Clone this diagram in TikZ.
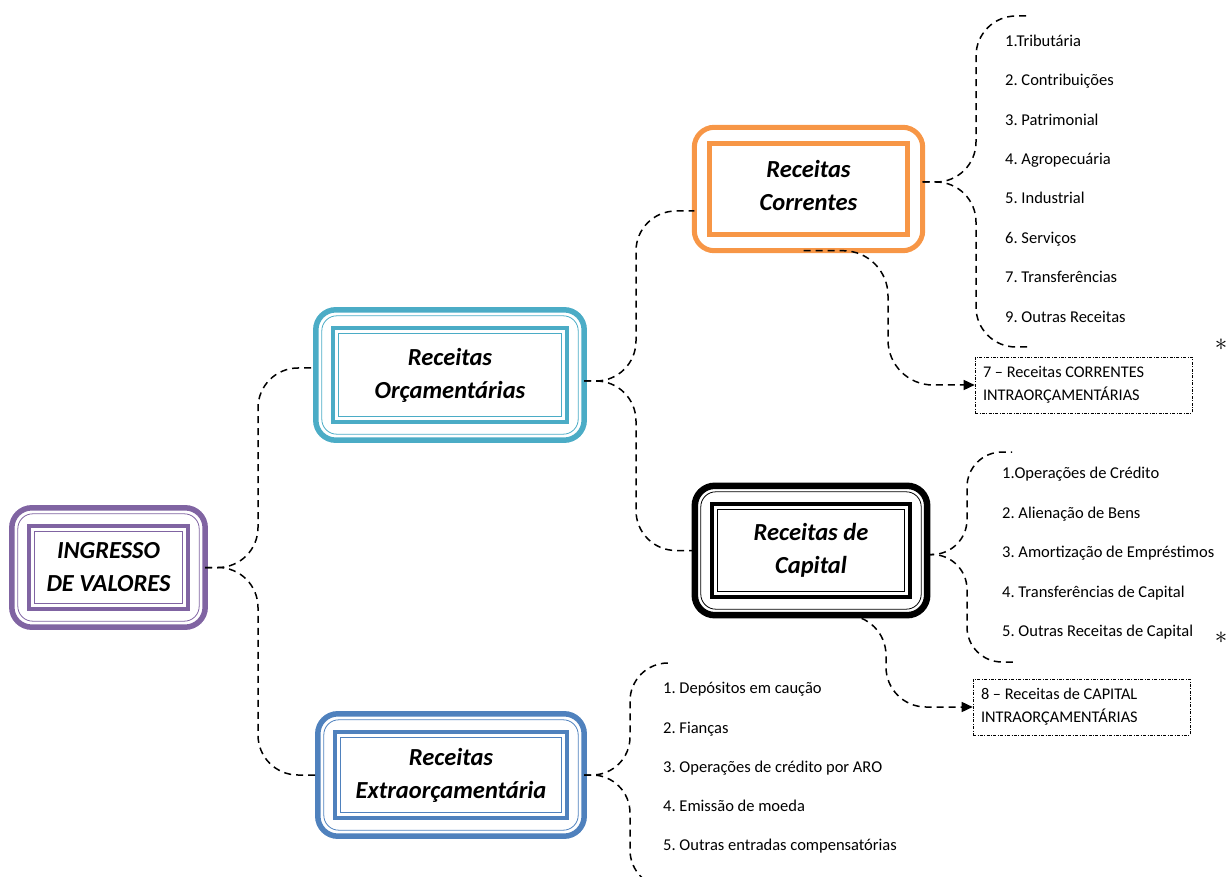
\documentclass[tikz,border=0pt]{standalone}
\usepackage{fontspec}
\setmainfont{Carlito}
\usetikzlibrary{arrows.meta}
\frenchspacing

\definecolor{roxo}{HTML}{8064A2}
\definecolor{ciano}{HTML}{4BACC6}
\definecolor{laranja}{HTML}{F79646}
\definecolor{azul}{HTML}{4F81BD}

\tikzset{
    titulo/.style={font=\fontsize{24.5}{33}\selectfont\bfseries\itshape, align=center, inner sep=0pt},
    item/.style={font=\fontsize{16.5}{18}\selectfont, anchor=west, inner sep=0pt, text height=12pt, text depth=3.5pt},
    ligacao/.style={dash pattern=on 7pt off 5pt, line width=1.5pt, rounded corners=28pt},
    seta/.style={-{Triangle[length=11pt,width=10pt]}},
    caixa/.style={draw, dash pattern=on 3pt off 1.5pt on 0.8pt off 1.5pt, line width=0.6pt,
        text width=201pt, minimum height=56pt, inner sep=8pt, align=flush left,
        font=\fontsize{16.3}{23}\selectfont},
    asterisco/.style={font=\fontsize{33}{33}\selectfont, inner sep=0pt}
}

% moldura com quatro linhas (grossa, fina, grossa, fina)
\newcommand{\molduratripla}[3]{%
    \draw[#2, line width=#3, rounded corners=20pt] (#1.south west) rectangle (#1.north east);
    \draw[#2, line width=0.8pt, rounded corners=15pt] ([shift={(6pt,6pt)}]#1.south west) rectangle ([shift={(-6pt,-6pt)}]#1.north east);
    \draw[#2, line width=4.5pt] ([shift={(17pt,18pt)}]#1.south west) rectangle ([shift={(-17pt,-18pt)}]#1.north east);
    \draw[#2, line width=0.8pt] ([shift={(22.5pt,23.5pt)}]#1.south west) rectangle ([shift={(-22.5pt,-23.5pt)}]#1.north east);
}
% moldura com duas linhas grossas
\newcommand{\molduradupla}[2]{%
    \draw[#2, line width=5pt, rounded corners=20pt] (#1.south west) rectangle (#1.north east);
    \draw[#2, line width=5pt] ([shift={(15pt,16.5pt)}]#1.south west) rectangle ([shift={(-15pt,-16.5pt)}]#1.north east);
}

\begin{document}
\begin{tikzpicture}[x=1pt, y=-1pt]
    \useasboundingbox (0,0) rectangle (1227,877);

    % caixas principais
    \node[titulo, minimum width=193pt, minimum height=119pt] (ing) at (108.5,567.5) {INGRESSO\\DE VALORES};
    \node[titulo, minimum width=268pt, minimum height=130pt] (orc) at (450,375) {Receitas\\Orçamentárias};
    \node[titulo, minimum width=228pt, minimum height=123pt, text depth=8pt] (cor) at (808.5,189) {Receitas\\Correntes};
    \node[titulo, minimum width=232pt, minimum height=129pt] (cap) at (811,550.5) {Receitas de\\Capital};
    \node[titulo, minimum width=266pt, minimum height=122pt] (ext) at (451,775) {Receitas\\Extraorçamentária};

    \molduratripla{ing}{roxo}{5.5pt}
    \molduratripla{orc}{ciano}{5.5pt}
    \molduradupla{cor}{laranja}
    \molduratripla{cap}{black}{6.5pt}
    \molduratripla{ext}{azul}{5.5pt}

    % listas
    \foreach \y/\t [count=\i] in {42/1.Tributária, 81/2. Contribuições, 121/3. Patrimonial,
        160/4. Agropecuária, 199/5. Industrial, 239/6. Serviços, 278/7. Transferências,
        318/9. Outras Receitas}
        \node[item] (cor\i) at (1005,\y) {\t};

    \foreach \y/\t [count=\i] in {474/1.Operações de Crédito, 514/2. Alienação de Bens,
        553/3. Amortização de Empréstimos, 593/4. Transferências de Capital,
        632/5. Outras Receitas de Capital}
        \node[item] (cap\i) at (1002,\y) {\t};

    \foreach \y/\t [count=\i] in {689/1. Depósitos em caução, 729/2. Fianças,
        768/3. Operações de crédito por ARO, 807/4. Emissão de moeda,
        846/5. Outras entradas compensatórias}
        \node[item] (ext\i) at (663,\y) {\t};

    % intraorcamentarias
    \node[caixa] (b7) at (1083.5,385) {7 – Receitas CORRENTES\\INTRAORÇAMENTÁRIAS};
    \node[caixa] (b8) at (1081.5,707) {8 – Receitas de CAPITAL\\INTRAORÇAMENTÁRIAS};

    \node[asterisco] (ast1) at (1221,345) {$\ast$};
    \node[asterisco] (ast2) at (1221,638) {$\ast$};

    % eixos verticais das chaves e pontas livres
    \coordinate (eixoIng) at (258,0);
    \coordinate (eixoOrc) at (636,0);
    \coordinate (eixoCor) at (976,0);
    \coordinate (eixoCap) at (967,0);
    \coordinate (eixoExt) at (630,0);
    \coordinate (eixoSeta7) at (888,0);
    \coordinate (eixoSeta8) at (886,0);

    \coordinate (corTopo) at (1030,16);
    \coordinate (corBase) at (1028,347);
    \coordinate (capTopo) at (1012,452);
    \coordinate (capBase) at (1013,662);
    \coordinate (extTopo) at (670,663);
    \coordinate (extBase) at (672,888);

    \coordinate (ingSaida) at (ing.east);
    \coordinate (orcEntrada) at ([yshift=7pt]orc.west);
    \coordinate (orcSaida) at ([yshift=-6pt]orc.east);
    \coordinate (corEntrada) at ([yshift=-22pt]cor.west);
    \coordinate (corSaida) at ([yshift=7pt]cor.east);
    \coordinate (corFundo) at ([xshift=-5pt]cor.south);
    \coordinate (capSaida) at ([yshift=-4pt]cap.east);
    \coordinate (capFundo) at ([xshift=27pt]cap.south);

    % ligacoes (ponta da chave mais aberta)
    \draw[ligacao] (ingSaida) [rounded corners=40pt] -| (eixoIng |- orcEntrada) [rounded corners=28pt] -- (orcEntrada);
    \draw[ligacao] (ingSaida) [rounded corners=40pt] -| (eixoIng |- ext.west) [rounded corners=28pt] -- (ext.west);

    \draw[ligacao] (orcSaida) [rounded corners=40pt] -| (eixoOrc |- corEntrada) [rounded corners=28pt] -- (corEntrada);
    \draw[ligacao] (orcSaida) [rounded corners=40pt] -| (eixoOrc |- cap.west) [rounded corners=28pt] -- (cap.west);

    \draw[ligacao] (corSaida) [rounded corners=40pt] -| (eixoCor |- corTopo) [rounded corners=28pt] -- (corTopo);
    \draw[ligacao] (corSaida) [rounded corners=40pt] -| (eixoCor |- corBase) [rounded corners=28pt] -- (corBase);

    \draw[ligacao] (capSaida) [rounded corners=35pt] -| (eixoCap |- capTopo) [rounded corners=28pt] -- (capTopo);
    \draw[ligacao] (capSaida) [rounded corners=35pt] -| (eixoCap |- capBase) [rounded corners=28pt] -- (capBase);

    \draw[ligacao] (ext.east) [rounded corners=38pt] -| (eixoExt |- extTopo) [rounded corners=28pt] -- (extTopo);
    \draw[ligacao] (ext.east) [rounded corners=38pt] -| (eixoExt |- extBase) [rounded corners=28pt] -- (extBase);

    \draw[ligacao, seta, rounded corners=45pt] (corFundo) -| (eixoSeta7 |- b7.west) -- (b7.west);
    \draw[ligacao, seta, rounded corners=40pt] (capFundo) -| (eixoSeta8 |- b8.west) -- (b8.west);
\end{tikzpicture}
\end{document}
